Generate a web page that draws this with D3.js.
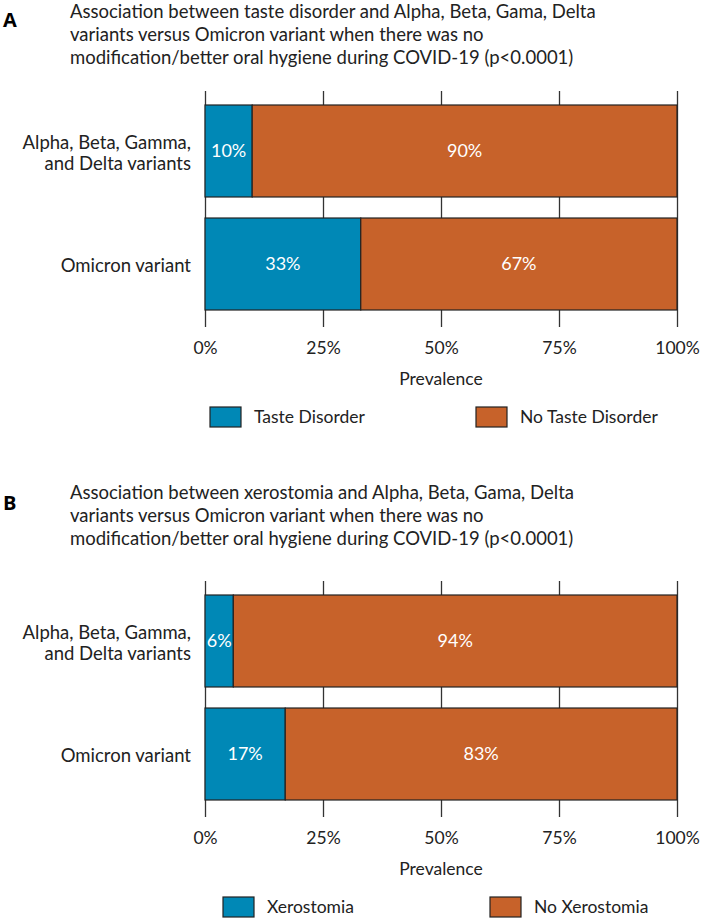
<!DOCTYPE html>
<html>
<head>
<meta charset="utf-8">
<script src="https://cdn.jsdelivr.net/npm/d3@7"></script>
<style>
  body { margin: 0; background: #fff; }
  svg text { font-family: Lato, "Open Sans", sans-serif; fill: #222; }
</style>
</head>
<body>
<svg id="chart" width="701" height="918"></svg>
<script>
// データ
var categories = ["Alpha, Beta, Gamma,|and Delta variants", "Omicron variant"];
var tasteDisorder = [10, 33];
var noTasteDisorder = [90, 67];
var xerostomia = [6, 17];
var noXerostomia = [94, 83];
var xTicks = [0, 25, 50, 75, 100];
var titleA = [
    "Association between taste disorder and Alpha, Beta, Gama, Delta",
    "variants versus Omicron variant when there was no",
    "modification/better oral hygiene during COVID-19 (p<0.0001)"
];
var titleB = [
    "Association between xerostomia and Alpha, Beta, Gama, Delta",
    "variants versus Omicron variant when there was no",
    "modification/better oral hygiene during COVID-19 (p<0.0001)"
];
var legendA = ["Taste Disorder", "No Taste Disorder"];
var legendB = ["Xerostomia", "No Xerostomia"];

var colors = ["#0088b6", "#c7622a"];
var svg = d3.select("#chart");

function drawPanel(cfg) {
    var g = svg.append("g");
    var x = d3.scaleLinear().domain([0, 100]).range([205, 677]);
    var y = d3.scaleBand().domain(categories).range([cfg.barTop, cfg.barTop + 205])
        .paddingInner(0.186).paddingOuter(0);
    var gridTop = cfg.barTop - 14;
    var gridBottom = cfg.barTop + 222;

    // パネル記号とタイトル
    g.append("text").attr("x", 3).attr("y", cfg.letterY).attr("dy", "0.35em")
        .style("font-family", "'Open Sans', sans-serif")
        .style("font-weight", "bold").style("font-size", "20px").style("fill", "#000")
        .text(cfg.letter);
    g.append("g").selectAll("text").data(cfg.title).join("text")
        .attr("x", 70).attr("y", function (d, i) { return cfg.titleY + i * 22.7; })
        .attr("dy", "0.35em").style("font-size", "18.5px")
        .text(function (d) { return d; });

    // 軸 + グリッド
    var axis = g.append("g").attr("transform", "translate(0," + gridBottom + ")")
        .call(d3.axisBottom(x).tickValues(xTicks)
            .tickSizeInner(-(gridBottom - gridTop)).tickSizeOuter(0).tickPadding(15)
            .tickFormat(function (d) { return d + "%"; }));
    axis.select(".domain").remove();
    axis.selectAll("line").attr("stroke", "#333").attr("stroke-width", 1.3);
    axis.selectAll("text").style("font-size", "17.5px").style("fill", "#222")
        .style("font-family", "Lato, sans-serif");

    g.append("text").attr("x", 441).attr("y", gridBottom + 52).attr("dy", "0.35em")
        .attr("text-anchor", "middle").style("font-size", "17.5px").text("Prevalence");

    // 積み上げ棒
    var rows = categories.map(function (c, i) {
        return { cat: c, a: cfg.values[0][i], b: cfg.values[1][i] };
    });
    var stack = d3.stack().keys(["a", "b"])(rows);
    var layer = g.selectAll(".layer").data(stack).join("g")
        .attr("fill", function (d, i) { return colors[i]; });
    layer.selectAll("rect").data(function (d) { return d; }).join("rect")
        .attr("x", function (d) { return x(d[0]); })
        .attr("y", function (d) { return y(d.data.cat); })
        .attr("width", function (d) { return x(d[1]) - x(d[0]); })
        .attr("height", y.bandwidth())
        .attr("stroke", "#222").attr("stroke-width", 1.2);
    layer.selectAll("text").data(function (d) { return d; }).join("text")
        .attr("x", function (d) { return (x(d[0]) + x(d[1])) / 2; })
        .attr("y", function (d) { return y(d.data.cat) + y.bandwidth() / 2; })
        .attr("dy", "0.35em").attr("text-anchor", "middle")
        .style("font-size", "18px").style("fill", "#fff")
        .text(function (d) { return (d[1] - d[0]) + "%"; });

    // Y軸ラベル
    g.append("g").selectAll("text").data(categories).join("text")
        .attr("text-anchor", "end")
        .attr("transform", function (d) { return "translate(191," + (y(d) + y.bandwidth() / 2) + ")"; })
        .each(function (d) {
            var lines = d.split("|");
            var t = d3.select(this);
            lines.forEach(function (l, i) {
                t.append("tspan").attr("x", 0)
                    .attr("y", (i - (lines.length - 1) / 2) * 21 + 2)
                    .attr("dy", "0.35em").text(l);
            });
        })
        .style("font-size", "18.5px");

    // 凡例
    var leg = g.append("g").selectAll("g").data(cfg.legend).join("g")
        .attr("transform", function (d, i) { return "translate(" + cfg.legendX[i] + "," + (gridBottom + 80) + ")"; });
    leg.append("rect").attr("width", 31).attr("height", 20)
        .attr("fill", function (d, i) { return colors[i]; })
        .attr("stroke", "#222").attr("stroke-width", 1.2);
    leg.append("text").attr("x", 44).attr("y", 10).attr("dy", "0.35em")
        .style("font-size", "17.5px").text(function (d) { return d; });
}

drawPanel({ letter: "A", letterY: 20, title: titleA, titleY: 12, barTop: 105,
    values: [tasteDisorder, noTasteDisorder], legend: legendA, legendX: [210, 476] });
drawPanel({ letter: "B", letterY: 503, title: titleB, titleY: 493, barTop: 595,
    values: [xerostomia, noXerostomia], legend: legendB, legendX: [223, 490] });
</script>
</body>
</html>
